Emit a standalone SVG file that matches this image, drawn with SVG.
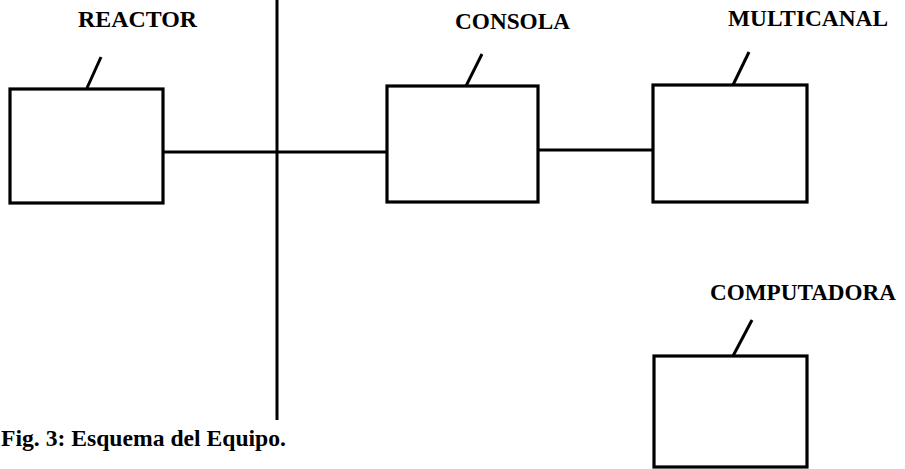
<svg xmlns="http://www.w3.org/2000/svg" width="905" height="469" viewBox="0 0 905 469">
<style>
.box{fill:none;stroke:#000;stroke-width:3.2;stroke-linejoin:miter}
.ln{stroke:#000;stroke-width:3;fill:none}
.lab{font-family:"Liberation Serif","Times New Roman",serif;font-weight:bold;font-size:24px;fill:#000}
</style>
<rect width="905" height="469" fill="#fff"/>
<g id="connectors">
<line class="ln" x1="277" y1="0" x2="277" y2="420"/>
<line class="ln" x1="163" y1="152" x2="388" y2="152"/>
<line class="ln" x1="538" y1="150" x2="653" y2="150"/>
</g>
<g id="reactor">
<rect class="box" x="10" y="89" width="153" height="114"/>
<line class="ln" x1="87" y1="88" x2="101" y2="57"/>
<text class="lab" x="78" y="27" textLength="119" lengthAdjust="spacingAndGlyphs">REACTOR</text>
</g>
<g id="consola">
<rect class="box" x="387" y="86" width="151" height="116"/>
<line class="ln" x1="466" y1="86" x2="482" y2="54"/>
<text class="lab" x="455" y="29" textLength="115" lengthAdjust="spacingAndGlyphs">CONSOLA</text>
</g>
<g id="multicanal">
<rect class="box" x="653" y="85" width="154" height="117"/>
<line class="ln" x1="733" y1="85" x2="749" y2="52"/>
<text class="lab" x="728" y="26" textLength="160" lengthAdjust="spacingAndGlyphs">MULTICANAL</text>
</g>
<g id="computadora">
<rect class="box" x="654" y="356" width="153" height="111"/>
<line class="ln" x1="733" y1="356" x2="752" y2="320"/>
<text class="lab" x="710" y="300" textLength="186" lengthAdjust="spacingAndGlyphs">COMPUTADORA</text>
</g>
<text class="lab" x="1" y="446" font-size="21" textLength="285" lengthAdjust="spacingAndGlyphs">Fig. 3: Esquema del Equipo.</text>
</svg>
